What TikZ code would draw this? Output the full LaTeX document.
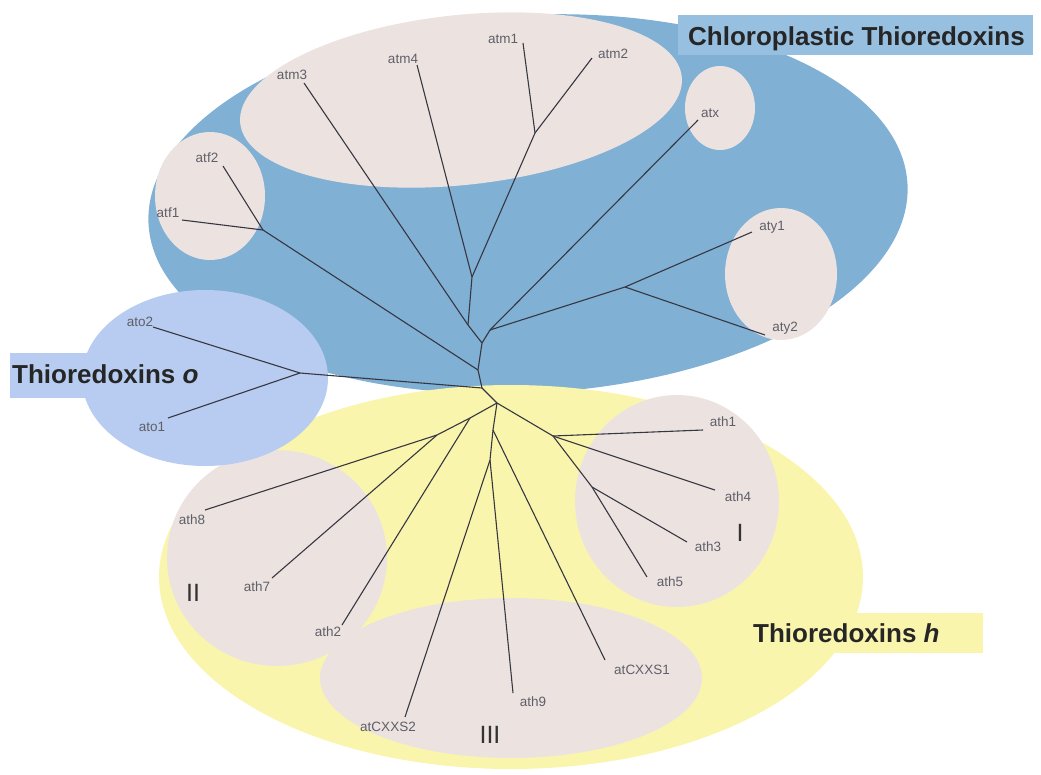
\documentclass[tikz,border=0pt]{standalone}
\usepackage{fontspec}
\setmainfont{Liberation Sans}
\usetikzlibrary{positioning}
\definecolor{chloroblue}{RGB}{128,176,212}
\definecolor{chlorotitle}{RGB}{150,191,224}
\definecolor{oblue}{RGB}{183,204,240}
\definecolor{hyellow}{RGB}{250,245,172}
\definecolor{groupgrey}{RGB}{236,227,225}
\definecolor{branchgrey}{RGB}{55,55,65}
\definecolor{labelgrey}{RGB}{95,95,105}

\begin{document}
\begin{tikzpicture}[x=1pt,y=-1pt,
    every node/.style={font=\fontsize{13.5}{14}\selectfont,text=labelgrey,inner sep=0pt},
    branch/.style={draw=branchgrey,line width=1.1pt,line join=round},
    grouptitle/.style={font=\fontsize{26}{28}\selectfont\bfseries,text=black!85,anchor=base west},
    roman/.style={font=\fontsize{25}{26}\selectfont,text=black!80}]
  \useasboundingbox (0,0) rectangle (1041,774);
  % chloroplastic group
  \fill[chloroblue,rotate around={3:(528,204)}] (528,204) ellipse [x radius=380,y radius=189];
  \fill[chlorotitle] (678,15) rectangle (1033,55);
  \fill[groupgrey,rotate around={6:(461,100)}] (461,100) ellipse [x radius=222,y radius=85];
  \fill[groupgrey] (720,108) ellipse [x radius=35,y radius=42];
  \fill[groupgrey] (210,196) ellipse [x radius=55,y radius=64];
  \fill[groupgrey] (781,274) ellipse [x radius=56,y radius=66];
  % h group
  \fill[hyellow] (511,577) ellipse [x radius=352,y radius=192];
  \fill[hyellow] (745,613) rectangle (983,653);
  \fill[groupgrey] (677,501) ellipse [x radius=102,y radius=106];
  \fill[groupgrey] (277,558) ellipse [x radius=110,y radius=108];
  \fill[groupgrey] (511,678) ellipse [x radius=191,y radius=80];
  % o group
  \fill[oblue] (205,378) ellipse [x radius=123,y radius=88];
  \fill[oblue] (10,353) rectangle (230,398);

  % junctions
  \coordinate (root) at (482,388);
  \coordinate (jf) at (478,370);
  \coordinate (jc) at (482,343);
  \coordinate (jm3) at (468,325);
  \coordinate (jm) at (472,277);
  \coordinate (jm12) at (535,133);
  \coordinate (jxy) at (490,330);
  \coordinate (jy) at (625,287);
  \coordinate (jff) at (263,230);
  \coordinate (jo) at (300,373);
  \coordinate (jh) at (497,403);
  \coordinate (ja) at (470,418);
  \coordinate (jb) at (437,435);
  \coordinate (jc2) at (493,430);
  \coordinate (jd) at (490,460);
  \coordinate (ji) at (553,436);
  \coordinate (j35) at (592,487);
  % leaf tips
  \coordinate (tatm3) at (304,83);
  \coordinate (tatm4) at (417,65);
  \coordinate (tatm1) at (523,43);
  \coordinate (tatm2) at (592,58);
  \coordinate (tatx) at (698,120);
  \coordinate (taty1) at (752,232);
  \coordinate (taty2) at (765,335);
  \coordinate (tatf2) at (223,166);
  \coordinate (tatf1) at (182,220);
  \coordinate (tato2) at (153,327);
  \coordinate (tato1) at (168,418);
  \coordinate (tath8) at (205,510);
  \coordinate (tath7) at (272,578);
  \coordinate (tath2) at (342,625);
  \coordinate (tcxxs2) at (405,717);
  \coordinate (tath9) at (513,693);
  \coordinate (tcxxs1) at (605,660);
  \coordinate (tath1) at (703,430);
  \coordinate (tath4) at (715,490);
  \coordinate (tath3) at (687,542);
  \coordinate (tath5) at (647,577);

  % branches
  \draw[branch] (root) -- (jf) -- (jc) -- (jm3) -- (tatm3);
  \draw[branch] (jm3) -- (jm) -- (tatm4);
  \draw[branch] (jm) -- (jm12) -- (tatm1);
  \draw[branch] (jm12) -- (tatm2);
  \draw[branch] (jc) -- (jxy) -- (tatx);
  \draw[branch] (jxy) -- (jy) -- (taty1);
  \draw[branch] (jy) -- (taty2);
  \draw[branch] (jf) -- (jff) -- (tatf2);
  \draw[branch] (jff) -- (tatf1);
  \draw[branch] (root) -- (jo) -- (tato2);
  \draw[branch] (jo) -- (tato1);
  \draw[branch] (root) -- (jh) -- (ja) -- (jb) -- (tath8);
  \draw[branch] (jb) -- (tath7);
  \draw[branch] (ja) -- (tath2);
  \draw[branch] (jh) -- (jc2) -- (jd) -- (tcxxs2);
  \draw[branch] (jd) -- (tath9);
  \draw[branch] (jc2) -- (tcxxs1);
  \draw[branch] (jh) -- (ji) -- (tath1);
  \draw[branch] (ji) -- (tath4);
  \draw[branch] (ji) -- (j35) -- (tath3);
  \draw[branch] (j35) -- (tath5);

  % leaf labels
  \node (latm3) at (292,75) {atm3};
  \node (latm4) at (403,59) {atm4};
  \node (latm1) at (503,39) {atm1};
  \node (latm2) at (613,54) {atm2};
  \node (latx) at (710,113) {atx};
  \node (laty1) at (772,227) {aty1};
  \node (laty2) at (785,328) {aty2};
  \node (latf2) at (207,158) {atf2};
  \node (latf1) at (168,213) {atf1};
  \node (lato2) at (140,322) {ato2};
  \node (lato1) at (152,427) {ato1};
  \node (lath8) at (192,520) {ath8};
  \node (lath7) at (257,587) {ath7};
  \node (lath2) at (328,632) {ath2};
  \node (lcxxs2) at (388,727) {atCXXS2};
  \node (lath9) at (533,702) {ath9};
  \node (lcxxs1) at (642,670) {atCXXS1};
  \node (lath1) at (723,422) {ath1};
  \node (lath4) at (738,497) {ath4};
  \node (lath3) at (708,547) {ath3};
  \node (lath5) at (670,582) {ath5};

  % subgroup numerals
  \node[roman] (romI) at (740,533) {I};
  \node[roman] (romII) at (193,593) {II};
  \node[roman] (romIII) at (490,735) {III};

  % group titles
  \node[grouptitle] (tchloro) at (688,45) {Chloroplastic Thioredoxins};
  \node[grouptitle] (to) at (12,383) {Thioredoxins \textit{o}};
  \node[grouptitle] (th) at (753,642) {Thioredoxins \textit{h}};
\end{tikzpicture}
\end{document}
